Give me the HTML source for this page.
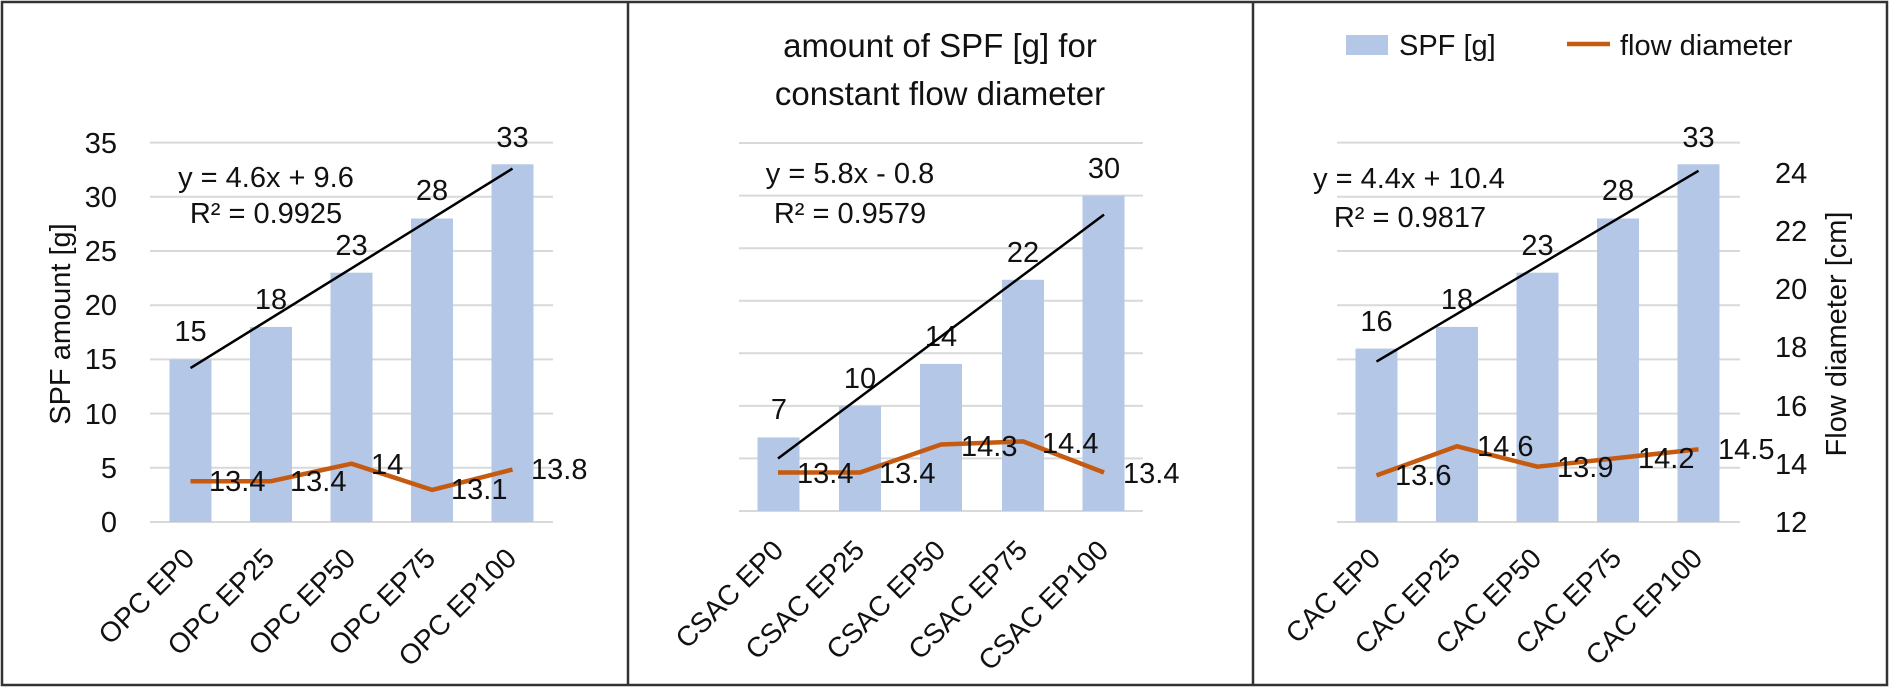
<!DOCTYPE html>
<html><head><meta charset="utf-8"><style>
html,body{margin:0;padding:0;background:#fff;}
svg{display:block;}
text{font-family:"Liberation Sans",sans-serif;fill:#111;font-size:29px;}
.c{font-size:28px;}
</style></head><body>
<svg width="1890" height="688" viewBox="0 0 1890 688" xmlns="http://www.w3.org/2000/svg">
<rect x="2" y="2" width="1885" height="683" fill="#fff" stroke="#333" stroke-width="2.5"/>
<line x1="628" y1="2" x2="628" y2="685" stroke="#333" stroke-width="2.5"/>
<line x1="1253" y1="2" x2="1253" y2="685" stroke="#333" stroke-width="2.5"/>

<!-- PANEL 1 -->
<g stroke="#D9D9D9" stroke-width="2">
<line x1="150" x2="553" y1="522" y2="522"/><line x1="150" x2="553" y1="467.8" y2="467.8"/><line x1="150" x2="553" y1="413.6" y2="413.6"/><line x1="150" x2="553" y1="359.4" y2="359.4"/><line x1="150" x2="553" y1="305.2" y2="305.2"/><line x1="150" x2="553" y1="251" y2="251"/><line x1="150" x2="553" y1="196.8" y2="196.8"/><line x1="150" x2="553" y1="142.6" y2="142.6"/>
</g>
<g text-anchor="end">
<text x="117" y="532">0</text><text x="117" y="478">5</text><text x="117" y="424">10</text><text x="117" y="369">15</text><text x="117" y="315">20</text><text x="117" y="261">25</text><text x="117" y="207">30</text><text x="117" y="153">35</text>
</g>
<text transform="translate(70,324) rotate(-90)" text-anchor="middle">SPF amount [g]</text>
<g fill="#B4C7E7">
<rect x="169.5" y="359.4" width="42" height="162.6"/><rect x="250" y="326.9" width="42" height="195.1"/><rect x="330.5" y="272.7" width="42" height="249.3"/><rect x="411" y="218.5" width="42" height="303.5"/><rect x="491.5" y="164.3" width="42" height="357.7"/>
</g>
<g text-anchor="middle">
<text x="190.5" y="341">15</text><text x="271" y="309">18</text><text x="351.5" y="255">23</text><text x="432" y="200">28</text><text x="512.5" y="147">33</text>
</g>
<line x1="190.5" y1="368.1" x2="512.5" y2="168.6" stroke="#000" stroke-width="2.5"/>
<text x="266" y="187" text-anchor="middle">y = 4.6x + 9.6</text>
<text x="266" y="223" text-anchor="middle">R² = 0.9925</text>
<polyline points="190.5,481.2 271,481.2 351.5,463.7 432,489.9 512.5,469.5" fill="none" stroke="#C55A11" stroke-width="4.5" stroke-linejoin="round"/>
<text x="209" y="491">13.4</text><text x="290" y="491">13.4</text><text x="371" y="474">14</text><text x="451" y="499">13.1</text><text x="531" y="479">13.8</text>
<g text-anchor="end" class="c">
<text class="c" transform="translate(196,560) rotate(-45)">OPC EP0</text>
<text class="c" transform="translate(276,560) rotate(-45)">OPC EP25</text>
<text class="c" transform="translate(357,560) rotate(-45)">OPC EP50</text>
<text class="c" transform="translate(437,560) rotate(-45)">OPC EP75</text>
<text class="c" transform="translate(518,560) rotate(-45)">OPC EP100</text>
</g>

<!-- PANEL 2 -->
<text x="940" y="57" text-anchor="middle" style="font-size:33px">amount of SPF [g] for</text>
<text x="940" y="105" text-anchor="middle" style="font-size:33px">constant flow diameter</text>
<g stroke="#D9D9D9" stroke-width="2">
<line x1="739" x2="1143" y1="511" y2="511"/><line x1="739" x2="1143" y1="458.4" y2="458.4"/><line x1="739" x2="1143" y1="405.9" y2="405.9"/><line x1="739" x2="1143" y1="353.3" y2="353.3"/><line x1="739" x2="1143" y1="300.7" y2="300.7"/><line x1="739" x2="1143" y1="248.2" y2="248.2"/><line x1="739" x2="1143" y1="195.6" y2="195.6"/><line x1="739" x2="1143" y1="143" y2="143"/>
</g>
<g fill="#B4C7E7">
<rect x="757.5" y="437.4" width="42" height="73.6"/><rect x="839" y="405.9" width="42" height="105.1"/><rect x="920" y="363.9" width="42" height="147.1"/><rect x="1002" y="279.8" width="42" height="231.2"/><rect x="1082.5" y="195.7" width="42" height="315.3"/>
</g>
<g text-anchor="middle">
<text x="779" y="419">7</text><text x="860" y="388">10</text><text x="941" y="346">14</text><text x="1023" y="262">22</text><text x="1104" y="178">30</text>
</g>
<line x1="778" y1="458.5" x2="1104" y2="214.6" stroke="#000" stroke-width="2.5"/>
<text x="850" y="183" text-anchor="middle">y = 5.8x - 0.8</text>
<text x="850" y="223" text-anchor="middle">R² = 0.9579</text>
<polyline points="778,472.5 860,472.5 941,444.5 1023,441.4 1104,472.5" fill="none" stroke="#C55A11" stroke-width="4.5" stroke-linejoin="round"/>
<text x="797" y="483">13.4</text><text x="879" y="483">13.4</text><text x="961" y="456">14.3</text><text x="1042" y="453">14.4</text><text x="1123" y="483">13.4</text>
<g text-anchor="end">
<text class="c" transform="translate(785,552) rotate(-45)">CSAC EP0</text>
<text class="c" transform="translate(866,552) rotate(-45)">CSAC EP25</text>
<text class="c" transform="translate(947,552) rotate(-45)">CSAC EP50</text>
<text class="c" transform="translate(1029,552) rotate(-45)">CSAC EP75</text>
<text class="c" transform="translate(1110,552) rotate(-45)">CSAC EP100</text>
</g>

<!-- PANEL 3 -->
<rect x="1346" y="35" width="42" height="20" fill="#B4C7E7"/>
<text x="1399" y="55">SPF [g]</text>
<line x1="1567" y1="44" x2="1610" y2="44" stroke="#C55A11" stroke-width="4.5"/>
<text x="1620" y="55">flow diameter</text>
<g stroke="#D9D9D9" stroke-width="2">
<line x1="1337" x2="1740" y1="522" y2="522"/><line x1="1337" x2="1740" y1="467.8" y2="467.8"/><line x1="1337" x2="1740" y1="413.6" y2="413.6"/><line x1="1337" x2="1740" y1="359.4" y2="359.4"/><line x1="1337" x2="1740" y1="305.2" y2="305.2"/><line x1="1337" x2="1740" y1="251" y2="251"/><line x1="1337" x2="1740" y1="196.8" y2="196.8"/><line x1="1337" x2="1740" y1="142.6" y2="142.6"/>
</g>
<g>
<text x="1775" y="532">12</text><text x="1775" y="474">14</text><text x="1775" y="416">16</text><text x="1775" y="357">18</text><text x="1775" y="299">20</text><text x="1775" y="241">22</text><text x="1775" y="183">24</text>
</g>
<text transform="translate(1846,334) rotate(-90)" text-anchor="middle">Flow diameter [cm]</text>
<g fill="#B4C7E7">
<rect x="1355.5" y="348.6" width="42" height="173.4"/><rect x="1436" y="326.9" width="42" height="195.1"/><rect x="1516.5" y="272.7" width="42" height="249.3"/><rect x="1597" y="218.5" width="42" height="303.5"/><rect x="1677.5" y="164.3" width="42" height="357.7"/>
</g>
<g text-anchor="middle">
<text x="1376.5" y="331">16</text><text x="1457" y="309">18</text><text x="1537.5" y="255">23</text><text x="1618" y="200">28</text><text x="1698.5" y="147">33</text>
</g>
<line x1="1376.5" y1="361.6" x2="1698.5" y2="170.8" stroke="#000" stroke-width="2.5"/>
<text x="1409" y="188" text-anchor="middle">y = 4.4x + 10.4</text>
<text x="1410" y="227" text-anchor="middle">R² = 0.9817</text>
<polyline points="1376.5,475.4 1457,446.3 1537.5,466.7 1618,458 1698.5,449.3" fill="none" stroke="#C55A11" stroke-width="4.5" stroke-linejoin="round"/>
<text x="1395" y="485">13.6</text><text x="1477" y="456">14.6</text><text x="1557" y="477">13.9</text><text x="1638" y="468">14.2</text><text x="1718" y="459">14.5</text>
<g text-anchor="end">
<text class="c" transform="translate(1382,560) rotate(-45)">CAC EP0</text>
<text class="c" transform="translate(1462,560) rotate(-45)">CAC EP25</text>
<text class="c" transform="translate(1543,560) rotate(-45)">CAC EP50</text>
<text class="c" transform="translate(1623,560) rotate(-45)">CAC EP75</text>
<text class="c" transform="translate(1704,560) rotate(-45)">CAC EP100</text>
</g>
</svg>
</body></html>
